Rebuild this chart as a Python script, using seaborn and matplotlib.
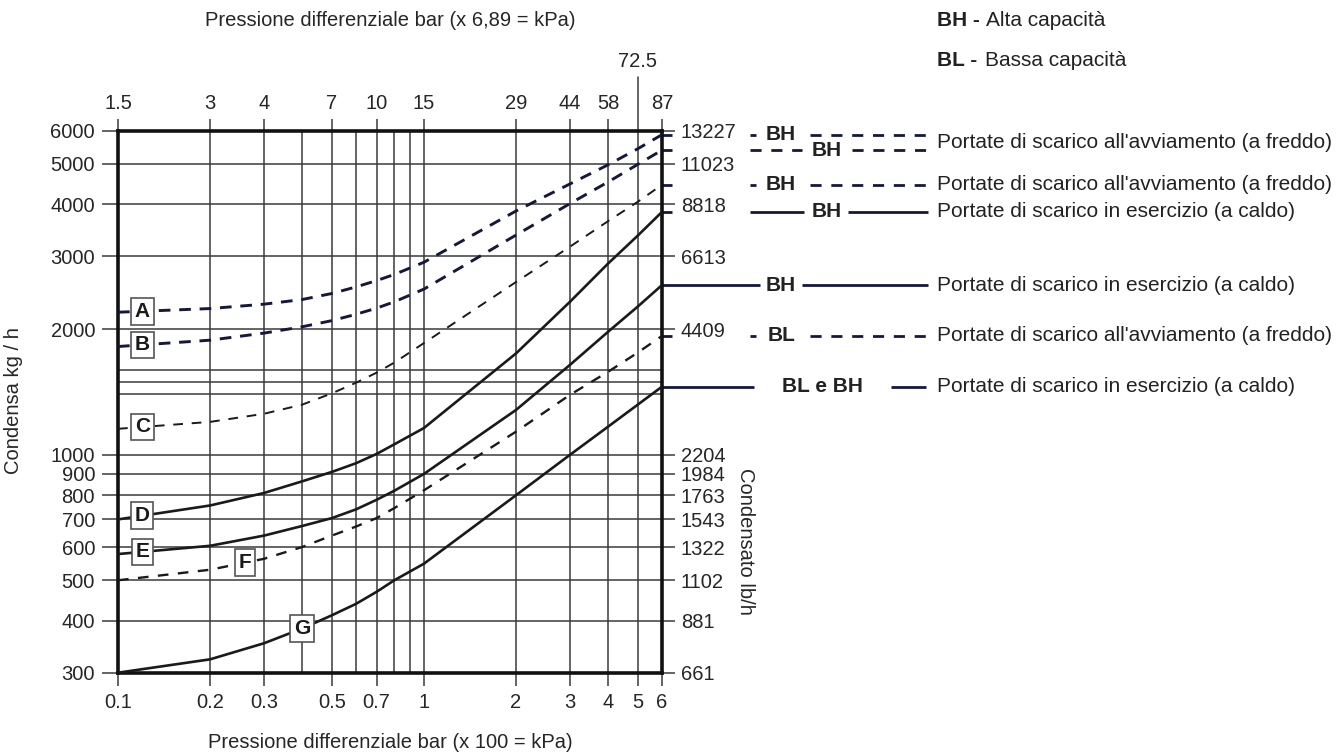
import matplotlib
matplotlib.use("Agg")
import matplotlib.pyplot as plt
import matplotlib.transforms as mtransforms
from matplotlib.ticker import NullLocator
import numpy as np
import seaborn as sns

sns.set_style("white")
plt.rcParams["font.family"] = ["Liberation Sans", "DejaVu Sans"]

pressure_bar = [0.1, 0.2, 0.3, 0.4, 0.5, 0.6, 0.7, 0.8, 1, 2, 3, 4, 5, 6]

# condensa kg/h for every curve
curve_a = [2200, 2245, 2300, 2360, 2440, 2530, 2620, 2710, 2900, 3850, 4470, 4970, 5430, 5870]
curve_b = [1820, 1885, 1960, 2030, 2100, 2175, 2250, 2330, 2500, 3370, 4010, 4520, 4980, 5390]
curve_c = [1155, 1200, 1255, 1320, 1405, 1490, 1575, 1665, 1855, 2600, 3160, 3640, 4050, 4450]
curve_d = [700, 756, 810, 864, 910, 955, 1005, 1060, 1160, 1752, 2330, 2880, 3360, 3830]
curve_e = [578, 605, 640, 675, 705, 740, 780, 820, 900, 1282, 1644, 1975, 2270, 2556]
curve_f = [500, 530, 563, 601, 640, 673, 705, 745, 822, 1137, 1393, 1583, 1760, 1930]
curve_g = [300, 323, 353, 383, 412, 439, 469, 500, 548, 800, 1000, 1169, 1320, 1458]

# axis ticks
bar_ticks = [0.1, 0.2, 0.3, 0.5, 0.7, 1, 2, 3, 4, 5, 6]
bar_labels = ["0.1", "0.2", "0.3", "0.5", "0.7", "1", "2", "3", "4", "5", "6"]
psi_ticks = [0.1, 0.2, 0.3, 0.5, 0.7, 1, 2, 3, 4, 6]
psi_labels = ["1.5", "3", "4", "7", "10", "15", "29", "44", "58", "87"]
psi_extra_tick = 5
psi_extra_label = "72.5"
kg_ticks = [300, 400, 500, 600, 700, 800, 900, 1000, 2000, 3000, 4000, 5000, 6000]
lb_labels = ["661", "881", "1102", "1322", "1543", "1763", "1984", "2204",
             "4409", "6613", "8818", "11023", "13227"]
extra_bar_grid = [0.4, 0.6, 0.8, 0.9]
extra_kg_grid = [1400, 1500, 1600]

FREDDO = "Portate di scarico all'avviamento (a freddo)"
CALDO = "Portate di scarico in esercizio (a caldo)"
NAVY = "#15183a"
INK = "#1a1a1a"
GRID = "#3a3a3a"

W, H = 1342, 754
fig = plt.figure(figsize=(W / 100, H / 100), dpi=100)
ax = fig.add_axes([118 / W, 1 - 672.7 / H, 544 / W, 542 / H])

ax.set_xscale("log")
ax.set_yscale("log")
ax.set_xlim(0.1, 6)
ax.set_ylim(300, 6000)

# grid
for v in bar_ticks + extra_bar_grid:
    ax.axvline(v, color=GRID, lw=1.1, zorder=1)
for v in kg_ticks + extra_kg_grid:
    ax.axhline(v, color=GRID, lw=1.1, zorder=1)

# curves
curve_styles = [
    ("A", curve_a, NAVY, 2.1, (0, (4, 3))),
    ("B", curve_b, NAVY, 2.1, (0, (4, 3))),
    ("C", curve_c, INK, 1.4, (0, (5, 4.5))),
    ("D", curve_d, INK, 1.9, "-"),
    ("E", curve_e, INK, 1.9, "-"),
    ("F", curve_f, INK, 1.7, (0, (4.5, 4))),
    ("G", curve_g, INK, 1.9, "-"),
]
for name, vals, col, lw, ls in curve_styles:
    sns.lineplot(x=pressure_bar, y=vals, ax=ax, color=col, lw=lw, linestyle=ls, zorder=3)

# letter boxes sitting on the curves
box_x = {"A": 0.12, "B": 0.12, "C": 0.12, "D": 0.12, "E": 0.12, "F": 0.26, "G": 0.4}
logp = np.log10(pressure_bar)
for name, vals, col, lw, ls in curve_styles:
    bx = box_x[name]
    by = 10 ** np.interp(np.log10(bx), logp, np.log10(vals))
    ax.text(bx, by, name, ha="center", va="center", fontsize=15, fontweight="bold",
            color=INK, zorder=5,
            bbox=dict(boxstyle="square,pad=0.18", fc="white", ec="#555555", lw=1.2))

# axes frame and ticks
for sp in ax.spines.values():
    sp.set_linewidth(2.6)
    sp.set_color("#111111")
ax.set_xticks(bar_ticks, labels=bar_labels)
ax.set_yticks(kg_ticks, labels=[str(v) for v in kg_ticks])
ax.xaxis.set_minor_locator(NullLocator())
ax.yaxis.set_minor_locator(NullLocator())
ax.tick_params(axis="x", direction="out", length=9.5, width=1.1, color=GRID,
               labelsize=14.5, pad=5, bottom=True)
ax.tick_params(axis="y", direction="out", length=11.5, width=1.1, color=GRID,
               labelsize=14.5, pad=5, left=True)

top = ax.secondary_xaxis("top")
top.set_xticks(psi_ticks, labels=psi_labels)
top.xaxis.set_minor_locator(NullLocator())
top.spines["top"].set_visible(False)
top.tick_params(direction="out", length=8.5, width=1.1, color=GRID, labelsize=14.5, pad=4)

right = ax.secondary_yaxis("right")
right.set_yticks(kg_ticks, labels=lb_labels)
right.yaxis.set_minor_locator(NullLocator())
right.spines["right"].set_visible(False)
right.tick_params(direction="out", length=9.5, width=1.1, color=GRID, labelsize=14.5, pad=4)

# 72.5 psi mark with its long tick
tx = mtransforms.blended_transform_factory(ax.transData, ax.transAxes)
ax.plot([psi_extra_tick, psi_extra_tick], [1.0, 1.099], transform=tx, color=GRID,
        lw=1.1, clip_on=False)
ax.text(psi_extra_tick, 1.127, psi_extra_label, transform=tx, ha="center", va="center",
        fontsize=14.5)

# axis titles
fig.text(390 / W, 1 - 20 / H, "Pressione differenziale bar (x 6,89 = kPa)",
         ha="center", va="center", fontsize=14.5)
fig.text(390 / W, 1 - 743 / H, "Pressione differenziale bar (x 100 = kPa)",
         ha="center", va="center", fontsize=14.5)
fig.text(14 / W, 1 - 401 / H, "Condensa kg / h", rotation=90,
         ha="center", va="center", fontsize=14.5)
fig.text(745 / W, 1 - 541 / H, "Condensato lb/h", rotation=270,
         ha="center", va="center", fontsize=14.5)

# legend on the right, rows aligned with the curve ends
tr = mtransforms.blended_transform_factory(ax.transAxes, ax.transData)


def fx(px):
    return (px - 118) / 544


def seg(x0, x1, y, dashed, color=NAVY):
    ls = (0, (4, 3.5)) if dashed else "-"
    ax.plot([fx(x0), fx(x1)], [y, y], transform=tr, clip_on=False, color=color,
            lw=2.0, linestyle=ls, solid_capstyle="butt")


def tag(xc, y, s):
    ax.text(fx(xc), y, s, transform=tr, ha="center", va="center", fontsize=15,
            fontweight="bold", color="#222222")


def desc(y, s):
    ax.text(fx(937), y, s, transform=tr, ha="left", va="center", fontsize=15,
            color="#222222")


ya, yb, yc, yd, ye, yf, yg = (c[-1] for c in
                              (curve_a, curve_b, curve_c, curve_d, curve_e, curve_f, curve_g))

for y in (ya, yb, yc, yd, yf):
    seg(662, 672, y, False)

seg(750, 756, ya, False)
tag(781, ya, "BH")
seg(810, 928, ya, True)

seg(750, 802, yb, True)
tag(827, yb, "BH")
seg(852, 928, yb, True)
desc(np.sqrt(ya * yb), FREDDO)

seg(750, 756, yc, False)
tag(781, yc, "BH")
seg(810, 928, yc, True)
desc(yc, FREDDO)

seg(750, 804, yd, False)
tag(827, yd, "BH")
seg(848, 928, yd, False)
desc(yd, CALDO)

seg(662, 760, ye, False)
tag(781, ye, "BH")
seg(802, 928, ye, False)
desc(ye, CALDO)

seg(750, 756, yf, False)
tag(782, yf, "BL")
seg(810, 928, yf, True)
desc(yf, FREDDO)

seg(662, 754, yg, False)
tag(822, yg, "BL e BH")
seg(891, 926, yg, False)
desc(yg, CALDO)

# capacity key at the top right
fig.text(937 / W, 1 - 20 / H, "BH -", ha="left", va="center", fontsize=15,
         fontweight="bold", color="#222222")
fig.text(986 / W, 1 - 20 / H, "Alta capacità", ha="left", va="center", fontsize=15,
         color="#222222")
fig.text(937 / W, 1 - 61 / H, "BL -", ha="left", va="center", fontsize=15,
         fontweight="bold", color="#222222")
fig.text(985 / W, 1 - 61 / H, "Bassa capacità", ha="left", va="center", fontsize=15,
         color="#222222")

fig.savefig("out.png", dpi=100)
